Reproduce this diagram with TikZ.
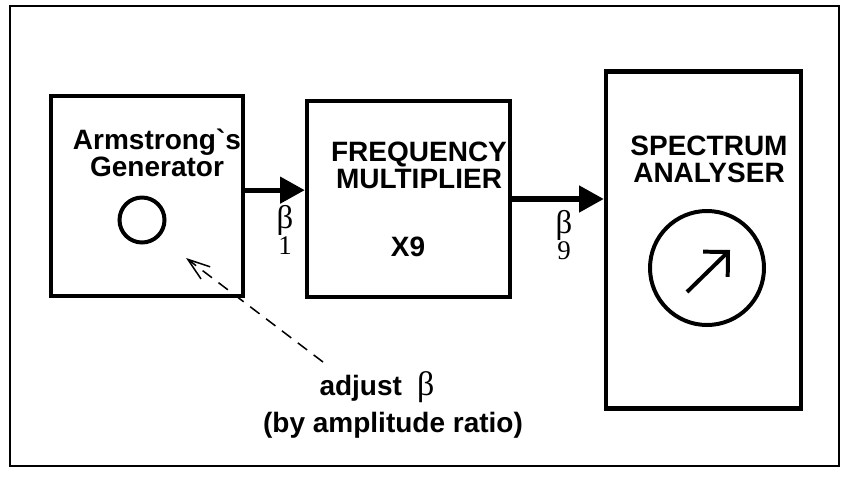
\documentclass[tikz,border=0pt]{standalone}
\usepackage{fontspec}
\setmainfont{Liberation Sans}
\newfontfamily\betafont{Liberation Serif}
\usepackage{tikz}
\usetikzlibrary{arrows.meta, positioning}
\tikzset{
  block/.style={rectangle, draw=black, line width=3.8pt, inner sep=0pt},
  ring/.style={circle, draw=black, line width=3.4pt, inner sep=0pt},
  title/.style={font=\fontsize{23.9pt}{23pt}\selectfont\bfseries, align=center,
                inner sep=0pt},
  greek/.style={font=\betafont\fontsize{28pt}{22pt}\selectfont, align=center,
                inner sep=0pt},
  flow/.style={-{Triangle[length=21pt,width=22pt]}, line width=4.3pt},
  hint/.style={-{Straight Barb[length=19pt,width=13pt]}, line width=1.3pt,
               dash pattern=on 10pt off 7pt},
}

\begin{document}
\begin{tikzpicture}[x=0.03cm, y=-0.03cm]
  \useasboundingbox (0,0) rectangle (849,476);
  \draw[line width=1.7pt] (10,6) rectangle (839,466);

  \node[block, minimum width=5.76cm, minimum height=6cm] (gen) at (147,196) {};
  \node[block, minimum width=6.09cm, minimum height=5.88cm] (mult) at (408.5,199) {};
  \node[block, minimum width=5.85cm, minimum height=10.1cm] (spec) at (703.5,240) {};

  \node[title, anchor=north] (gentxt) at (157,129)
    {Armstrong\textasciigrave s\\Generator};
  \node[title, anchor=north] (multtxt) at (419,142) {FREQUENCY\\MULTIPLIER};
  \node[title, anchor=north] (spectxt) at (709,136) {SPECTRUM\\ANALYSER};
  \node[title, anchor=base] (gain) at (408,256) {X9};

  \node[ring, minimum size=1.35cm] (osc) at (142,220) {};
  \node[ring, minimum size=3.42cm] (dial) at (707,268) {};
  \draw[line width=3.4pt, -{Straight Barb[length=15pt,width=30pt]}]
    ([shift={(-20,24)}]dial.center) -- ([shift={(23,-18)}]dial.center);

  \draw[flow] ([yshift=5pt]gen.east) -- ([yshift=5pt]gen.east -| mult.west);
  \draw[flow] (mult.east) -- (mult.east -| spec.west);

  \node[greek, anchor=north] (beta1) at (285,205)
    {β\\{\fontsize{23pt}{22pt}\selectfont 1}};
  \node[greek, anchor=north] (beta9) at (564,210)
    {β\\{\fontsize{23pt}{22pt}\selectfont 9}};

  \node[title, anchor=base] (adj) at (377,395)
    {adjust\hspace{13pt}{\betafont\mdseries\fontsize{29pt}{29pt}\selectfont β}};
  \node[title, anchor=base] (ratio) at (393,432) {(by amplitude ratio)};

  \coordinate (tail) at (323,362);
  \coordinate (knob) at (186,258);
  \draw[hint] (tail) -- (knob);
\end{tikzpicture}
\end{document}
